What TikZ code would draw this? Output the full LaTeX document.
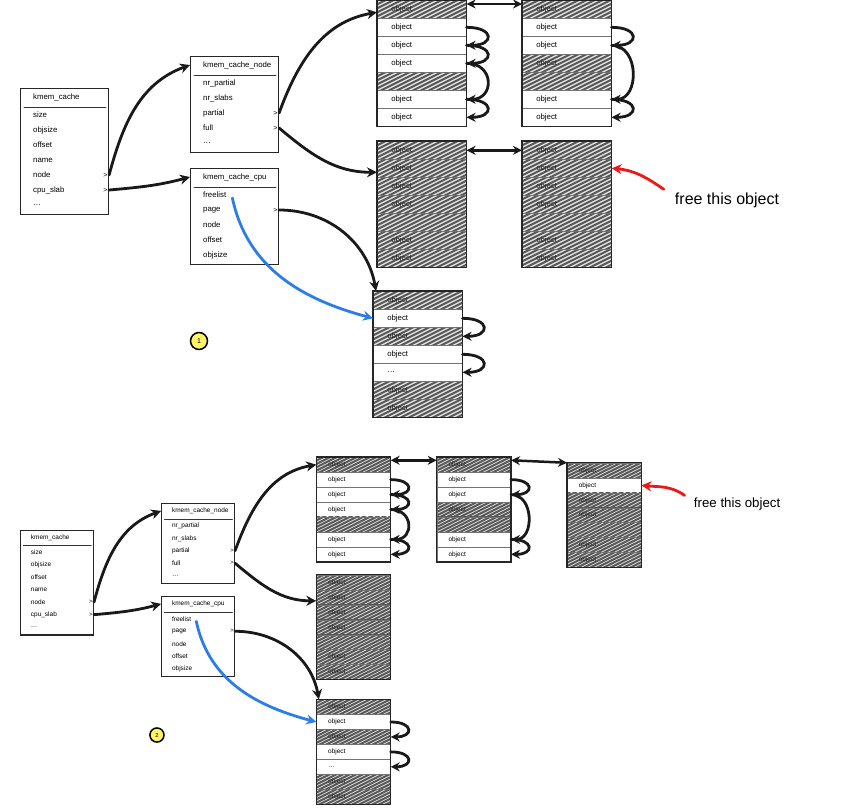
\documentclass[tikz,border=0pt]{standalone}
\usepackage{fontspec}
\setmainfont{Liberation Sans}
\usetikzlibrary{arrows.meta}

\definecolor{freelistblue}{RGB}{45,125,230}
\definecolor{freered}{RGB}{235,25,25}
\definecolor{badgeyellow}{RGB}{255,242,100}

% struct box: name, x, y, height, header, fields
\newcommand\kstruct[6]{%
  \node[box, minimum height=#4, anchor=north west] (#1) at (#2,#3) {};
  \node[field, anchor=west] (#1-h) at ({#2+13},{#3+9}) {#5};
  \draw[hline] ({#2+4},{#3+19}) -- ({#2+86},{#3+19});
  \foreach \f [count=\i] in {#6}
    \node[field, anchor=west] (#1-\i) at ({#2+13},{#3+12+15*\i}) {\f};
}
% slab of seven objects: name, x, y, rows
\newcommand\slab[4]{%
  \foreach \k/\t [count=\i] in {#4}
    \node[\k, anchor=north west] (#1-\i) at (#2,{#3+18*(\i-1)}) {\t};
  \draw[frame] (#1-1.north west) rectangle (#1-7.south east);
}

\begin{document}
\begin{tikzpicture}[x=1pt, y=-1pt, line cap=round,
  box/.style={draw=black!85, line width=1.1pt, minimum width=88pt, inner sep=0pt},
  field/.style={inner sep=0pt, font=\fontsize{7.8}{9}\selectfont},
  hline/.style={draw=black!80, line width=0.7pt},
  ptr/.style={anchor=east, inner sep=1.5pt, font=\fontsize{7}{8}\selectfont},
  plain/.style={draw=black!55, line width=0.6pt, fill=white, minimum width=89pt,
    minimum height=18pt, inner sep=0pt, text width=61pt, align=left,
    font=\fontsize{7.8}{9}\selectfont},
  scribble/.style={line width=2pt, black!65},
  hatch/.style={plain, text=black!85, fill=gray!20,
    path picture={\foreach \s in {-50,-42,...,96}
      \draw[scribble] ([xshift=\s pt, yshift=-3pt]path picture bounding box.south west)
        -- ++(48pt,24pt);}},
  frame/.style={draw=black!85, line width=1.1pt},
  link/.style={-{Stealth[length=10pt, width=10pt]}, line width=2.8pt, black!90},
  dlink/.style={{Stealth[length=9pt, width=9pt]}-{Stealth[length=9pt, width=9pt]},
    line width=2.5pt, black!90},
  loopy/.style={-{Stealth[length=9pt, width=9pt]}, line width=2.8pt, black!90,
    out=0, in=0, distance=28pt},
  freeptr/.style={-{Stealth[length=10pt, width=10pt]}, line width=2.8pt, freelistblue},
  freeit/.style={-{Stealth[length=10pt, width=10pt]}, line width=2.8pt, freered},
  note/.style={inner sep=3pt, font=\fontsize{16}{18}\selectfont},
  badge/.style={circle, draw, line width=1.5pt, fill=badgeyellow, inner sep=1pt,
    minimum size=17pt, font=\fontsize{7}{8}\selectfont}]
\useasboundingbox (0,0) rectangle (849,807);

% before the free
\begin{scope}[shift={(20,88)}]
  \kstruct{kc}{0}{0}{126}{kmem\_cache}{size, objsize, offset, name, node, cpu\_slab, \dots}
  \kstruct{kcn}{170}{-32}{96}{kmem\_cache\_node}{nr\_partial, nr\_slabs, partial, full, \dots}
  \kstruct{kcc}{170}{80}{96}{kmem\_cache\_cpu}{freelist, page, node, offset, objsize}
  \node[ptr] (kc-p5) at (kc-5 -| kc.east) {>};
  \node[ptr] (kc-p6) at (kc-6 -| kc.east) {>};
  \node[ptr] (kcn-p3) at (kcn-3 -| kcn.east) {>};
  \node[ptr] (kcn-p4) at (kcn-4 -| kcn.east) {>};
  \node[ptr] (kcc-p2) at (kcc-2 -| kcc.east) {>};

  \slab{A}{357}{-88}{hatch/object, plain/object, plain/object, plain/object, hatch/{}, plain/object, plain/object}
  \slab{B}{502}{-88}{hatch/object, plain/object, plain/object, hatch/object, hatch/{}, plain/object, plain/object}
  \slab{C}{357}{53}{hatch/object, hatch/object, hatch/object, hatch/object, hatch/{}, hatch/object, hatch/object}
  \slab{D}{502}{53}{hatch/object, hatch/object, hatch/object, hatch/object, hatch/{}, hatch/object, hatch/object}
  \slab{E}{353}{203}{hatch/object, plain/object, hatch/object, plain/object, plain/\dots, hatch/object, hatch/object}

  \draw[link] (kc-p5.east) to[out=75, in=200] (kcn-h -| kcn.west);
  \draw[link] (kc-p6.east) to[out=5, in=195] (kcc-h -| kcc.west);
  \draw[link] (kcn-p3.east) to[out=70, in=190] ([yshift=-3pt]A-1.west);
  \draw[link] (kcn-p4.east) to[out=-40, in=180] ([yshift=-4pt]C-2.west);
  \draw[link] (kcc-p2.east) to[out=0, in=100] ([xshift=3pt]E-1.north west);
  \draw[freeptr] ([xshift=6pt, yshift=-3pt]kcc-1.east) to[out=-78, in=165] (E-2.west);

  \draw[dlink] ([yshift=-4pt]A-1.north east) -- ([yshift=-4pt]B-1.north west);
  \draw[dlink] (C-1.east) -- (D-1.west);
  \foreach \a/\b in {2/3, 3/4, 4/6, 6/7} \draw[loopy] (A-\a.east) to (A-\b.east);
  \foreach \a/\b in {2/3, 3/6, 6/7} \draw[loopy] (B-\a.east) to (B-\b.east);
  \foreach \a/\b in {2/3, 4/5} \draw[loopy] (E-\a.east) to (E-\b.east);

  \node[note] (free) at (707,112) {free this object};
  \draw[freeit] ([xshift=-8pt]free.north west) to[out=145, in=-5] (D-2.east);
  \node[badge] (one) at (179,253) {1};
\end{scope}

% after the free
\begin{scope}[shift={(20,530)}, scale=0.83, transform shape]
  \kstruct{kcb}{0}{0}{126}{kmem\_cache}{size, objsize, offset, name, node, cpu\_slab, \dots}
  \kstruct{kcnb}{170}{-32}{96}{kmem\_cache\_node}{nr\_partial, nr\_slabs, partial, full, \dots}
  \kstruct{kccb}{170}{80}{96}{kmem\_cache\_cpu}{freelist, page, node, offset, objsize}
  \node[ptr] (kcb-p5) at (kcb-5 -| kcb.east) {>};
  \node[ptr] (kcb-p6) at (kcb-6 -| kcb.east) {>};
  \node[ptr] (kcnb-p3) at (kcnb-3 -| kcnb.east) {>};
  \node[ptr] (kcnb-p4) at (kcnb-4 -| kcnb.east) {>};
  \node[ptr] (kccb-p2) at (kccb-2 -| kccb.east) {>};

  \slab{F}{357}{-88}{hatch/object, plain/object, plain/object, plain/object, hatch/{}, plain/object, plain/object}
  \slab{G}{502}{-88}{hatch/object, plain/object, plain/object, hatch/object, hatch/{}, plain/object, plain/object}
  \slab{H}{659}{-81}{hatch/object, plain/object, hatch/object, hatch/object, hatch/{}, hatch/object, hatch/object}
  \slab{I}{357}{54}{hatch/object, hatch/object, hatch/object, hatch/object, hatch/{}, hatch/object, hatch/object}
  \slab{J}{357}{204}{hatch/object, plain/object, hatch/object, plain/object, plain/\dots, hatch/object, hatch/object}

  \draw[link] (kcb-p5.east) to[out=75, in=200] (kcnb-h -| kcnb.west);
  \draw[link] (kcb-p6.east) to[out=5, in=195] (kccb-h -| kccb.west);
  \draw[link] (kcnb-p3.east) to[out=70, in=190] (F-1.west);
  \draw[link] (kcnb-p4.east) to[out=-40, in=180] ([yshift=-4pt]I-2.west);
  \draw[link] (kccb-p2.east) to[out=0, in=100] ([xshift=3pt]J-1.north west);
  \draw[freeptr] ([xshift=6pt, yshift=-3pt]kccb-1.east) to[out=-78, in=165] (J-2.west);

  \draw[dlink] ([yshift=-4pt]F-1.north east) -- ([yshift=-4pt]G-1.north west);
  \draw[dlink] ([yshift=-4pt]G-1.north east) -- (H-1.north west);
  \foreach \a/\b in {2/3, 3/4, 4/6, 6/7} \draw[loopy] (F-\a.east) to (F-\b.east);
  \foreach \a/\b in {2/3, 3/6, 6/7} \draw[loopy] (G-\a.east) to (G-\b.east);
  \foreach \a/\b in {2/3, 4/5} \draw[loopy] (J-\a.east) to (J-\b.east);

  \node[note] (freeb) at (864,-31) {free this object};
  \draw[freeit] ([xshift=-8pt]freeb.north west) to[out=145, in=-5] (H-2.east);
  \node[badge] (two) at (165,247) {2};
\end{scope}
\end{tikzpicture}
\end{document}
